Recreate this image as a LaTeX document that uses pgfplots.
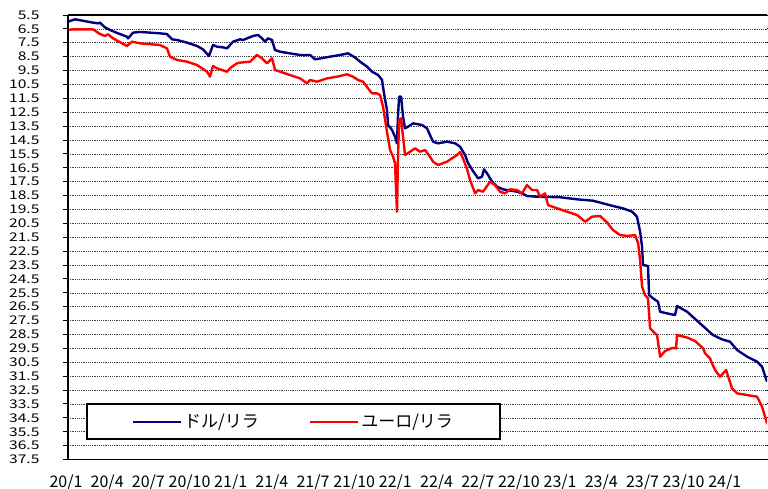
\documentclass[border=0pt]{standalone}
\usepackage{pgfplots}
\pgfplotsset{compat=1.18}
\usepackage{fontspec}
\setmainfont{Noto Sans CJK JP}
\definecolor{usd}{RGB}{0,0,128}
\definecolor{eur}{RGB}{255,0,0}
\newcommand\yl[1]{\scalebox{1.3}[1]{#1}}
\begin{document}
\begin{tikzpicture}
\path[use as bounding box] (-68pt,-29.5pt) rectangle (700pt,459.5pt);
\begin{axis}[
  at={(0pt,0pt)}, anchor=south west,
  scale only axis, width=699pt, height=444.5pt,
  xmin=0, xmax=49.57,
  ymin=5.5, ymax=37.5, y dir=reverse,
  axis line style={draw=none},
  xtick={0,2.92,5.84,8.76,11.68,14.60,17.52,20.44,23.36,26.28,29.20,32.12,35.04,37.96,40.88,43.80,46.72},
  xticklabels={20/1,20/4,20/7,20/10,21/1,21/4,21/7,21/10,22/1,22/4,22/7,22/10,23/1,23/4,23/7,23/10,24/1},
  xtick style={draw=none},
  xticklabel style={font=\fontsize{16}{16}\selectfont, inner xsep=0pt, xshift=-2pt, yshift=-7pt},
  ytick={5.5,6.5,...,37.5},
  yticklabels={\yl{5.5},\yl{6.5},\yl{7.5},\yl{8.5},\yl{9.5},\yl{10.5},\yl{11.5},\yl{12.5},\yl{13.5},\yl{14.5},\yl{15.5},\yl{16.5},\yl{17.5},\yl{18.5},\yl{19.5},\yl{20.5},\yl{21.5},\yl{22.5},\yl{23.5},\yl{24.5},\yl{25.5},\yl{26.5},\yl{27.5},\yl{28.5},\yl{29.5},\yl{30.5},\yl{31.5},\yl{32.5},\yl{33.5},\yl{34.5},\yl{35.5},\yl{36.5},\yl{37.5}},
  yticklabel style={font=\fontsize{12}{12}\selectfont, inner ysep=0pt, xshift=-20pt},
  tick align=outside, major tick length=5pt,
  ytick style={black, line width=1pt},
  ymajorgrids,
  grid style={black!75, line width=0.6pt, dash pattern=on 1.2pt off 1pt},
  legend columns=2,
  legend style={at={(0.0258,0.0439)}, anchor=south west, draw=black, line width=1.5pt,
    font=\fontsize{17}{17}\selectfont, inner xsep=45pt, inner ysep=8pt,
    /tikz/every even column/.append style={column sep=48pt}},
  legend image code/.code={\draw[#1] (0pt,0pt) -- (48pt,0pt);},
  clip=true,
]
\addplot[usd, line width=2.4pt, line join=round] coordinates {
(0,5.98)(0.50,5.81)(1.77,6.05)(2.13,6.10)(2.27,6.05)(2.62,6.39)(2.98,6.58)(3.55,6.82)
(4.18,7.06)(4.26,7.18)(4.61,6.77)(5.11,6.72)(6.52,6.82)(7.02,6.87)(7.38,7.25)(7.73,7.30)
(8.44,7.49)(9.15,7.73)(9.57,7.97)(10.0,8.45)(10.28,7.66)(10.57,7.78)(10.99,7.83)(11.28,7.90)
(11.70,7.42)(12.20,7.25)(12.41,7.30)(13.12,7.01)(13.48,6.94)(13.76,7.18)(13.97,7.42)(14.18,7.18)
(14.47,7.30)(14.68,8.02)(15.04,8.14)(15.74,8.26)(16.45,8.38)(17.16,8.38)(17.52,8.69)(18.58,8.50)
(19.29,8.38)(19.86,8.26)(20.35,8.55)(20.71,8.86)(21.21,9.22)(21.56,9.58)(21.99,9.82)(22.27,10.18)
(22.41,11.14)(22.62,12.34)(22.70,13.42)(22.98,13.78)(23.19,14.26)(23.33,14.74)(23.40,12.82)(23.48,11.38)
(23.62,11.38)(23.76,12.82)(23.90,13.66)(24.11,13.54)(24.47,13.30)(25.11,13.42)(25.46,13.66)(25.67,14.14)
(25.89,14.62)(26.24,14.74)(26.88,14.62)(27.45,14.74)(27.80,14.98)(28.16,15.58)(28.37,16.16)(28.72,16.73)
(29.08,17.26)(29.36,17.14)(29.50,16.61)(29.72,16.90)(30.07,17.50)(30.43,17.86)(30.85,18.05)(31.84,18.22)
(32.20,18.34)(32.55,18.53)(33.26,18.58)(34.89,18.62)(36.10,18.77)(37.23,18.87)(37.94,19.06)(38.65,19.25)
(39.36,19.42)(40.0,19.66)(40.35,20.02)(40.57,21.10)(40.71,22.18)(40.78,23.50)(41.13,23.57)(41.21,25.66)
(41.49,25.90)(41.84,26.14)(41.99,26.86)(42.48,26.98)(43.05,27.10)(43.19,26.45)(43.90,26.86)(44.82,27.70)
(45.74,28.54)(46.38,28.85)(46.95,29.02)(47.45,29.62)(48.16,30.10)(48.87,30.46)(49.22,30.82)(49.57,31.90)
};
\addlegendentry{ドル/リラ}
\addplot[eur, line width=2.4pt, line join=round] coordinates {
(0,6.58)(0.35,6.53)(1.77,6.53)(2.27,6.87)(2.62,7.01)(2.84,6.89)(3.19,7.18)(4.18,7.73)
(4.54,7.42)(5.11,7.54)(6.52,7.66)(7.02,7.90)(7.23,8.50)(7.73,8.74)(8.44,8.86)(9.15,9.10)
(9.86,9.58)(10.07,9.94)(10.28,9.17)(10.57,9.34)(11.28,9.58)(11.49,9.34)(11.70,9.17)(11.99,8.98)
(12.20,8.93)(12.91,8.86)(13.40,8.38)(13.76,8.62)(14.11,8.98)(14.47,8.62)(14.68,9.46)(15.04,9.58)
(15.74,9.82)(16.45,10.06)(16.95,10.42)(17.16,10.18)(17.66,10.30)(18.37,10.06)(19.08,9.94)(19.79,9.77)
(20.21,9.94)(20.57,10.18)(20.92,10.30)(21.28,10.78)(21.56,11.14)(21.91,11.14)(22.13,11.26)(22.34,12.10)
(22.62,13.90)(22.84,15.22)(23.05,15.70)(23.19,16.18)(23.33,19.66)(23.40,15.94)(23.48,13.06)(23.62,12.94)
(23.76,14.26)(23.90,15.58)(24.26,15.34)(24.61,15.10)(24.96,15.34)(25.32,15.22)(25.67,15.70)(25.89,16.06)
(26.24,16.30)(26.88,16.06)(27.23,15.82)(27.59,15.58)(27.80,15.36)(28.01,15.82)(28.30,16.59)(28.51,17.38)
(28.87,18.34)(29.08,18.10)(29.43,18.22)(29.93,17.50)(30.28,17.74)(30.64,18.22)(30.99,18.34)(31.35,18.05)
(31.84,18.10)(32.20,18.34)(32.55,17.74)(32.91,18.10)(33.26,18.10)(33.48,18.58)(33.83,18.34)(34.04,19.18)
(34.68,19.42)(35.39,19.66)(36.10,19.90)(36.67,20.38)(37.16,20.02)(37.73,19.97)(38.23,20.44)(38.65,20.98)
(39.15,21.34)(39.65,21.41)(40.21,21.34)(40.43,21.92)(40.57,23.14)(40.71,25.06)(40.92,25.66)(41.13,25.90)
(41.28,28.06)(41.63,28.42)(41.77,28.54)(41.99,30.10)(42.34,29.69)(42.84,29.47)(43.12,29.50)(43.19,28.54)
(43.90,28.72)(44.47,28.97)(45.04,29.50)(45.18,29.86)(45.53,30.22)(45.67,30.58)(45.89,31.06)(46.24,31.54)
(46.67,31.06)(47.09,32.38)(47.45,32.74)(48.16,32.86)(48.87,32.98)(49.22,33.70)(49.57,34.90)
};
\addlegendentry{ユーロ/リラ}
\end{axis}
\draw[black, line width=1.6pt] (0pt,444.5pt) -- (0pt,0pt) -- (699pt,0pt);
\draw[black, line width=1.6pt] (0pt,444.5pt) -- (699pt,444.5pt);
\end{tikzpicture}
\end{document}
